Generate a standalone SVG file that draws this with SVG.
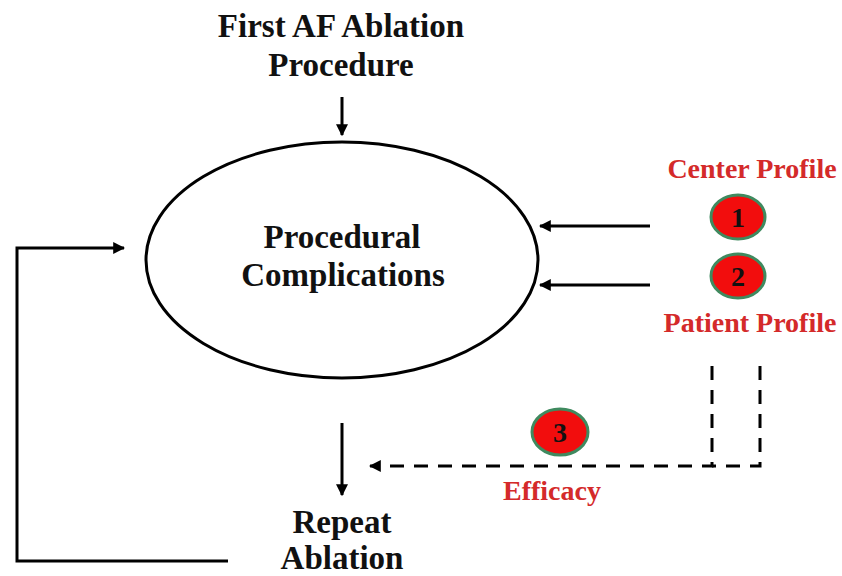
<svg xmlns="http://www.w3.org/2000/svg" width="842" height="576" viewBox="0 0 842 576">
<style>
.t{font-family:"Liberation Serif",serif;font-weight:bold;font-size:33px;fill:#111;text-anchor:middle}
.r{font-family:"Liberation Serif",serif;font-weight:bold;font-size:28px;fill:#d42a2a;text-anchor:middle}
.n{font-family:"Liberation Serif",serif;font-weight:bold;font-size:28px;fill:#111;text-anchor:middle}
.ln{stroke:#000;stroke-width:3;fill:none}
.ds{stroke:#000;stroke-width:3;fill:none;stroke-dasharray:14 10}
.badge{fill:#f20d0d;stroke:#3f8a5f;stroke-width:3}
</style>
<defs>
<marker id="ah" viewBox="0 0 10 10" refX="9" refY="5" markerWidth="4" markerHeight="4" orient="auto" markerUnits="strokeWidth">
<path d="M0,0 L10,5 L0,10 z" fill="#000"/>
</marker>
</defs>
<rect width="842" height="576" fill="#fff"/>
<g id="start"><text class="t" x="341" y="37">First AF Ablation</text><text class="t" x="341" y="76">Procedure</text></g>
<g id="complications"><ellipse cx="342" cy="260" rx="196" ry="118" fill="#fff" stroke="#000" stroke-width="3"/>
<text class="t" x="342" y="248">Procedural</text><text class="t" x="343" y="286">Complications</text></g>
<g id="repeat"><text class="t" x="342" y="533">Repeat</text><text class="t" x="342" y="569">Ablation</text></g>
<g id="center"><text class="r" x="752" y="178">Center Profile</text><ellipse class="badge" cx="738" cy="217" rx="27" ry="22"/><text class="n" x="738" y="227">1</text></g>
<g id="patient"><ellipse class="badge" cx="738" cy="276" rx="27" ry="22"/><text class="n" x="738" y="286">2</text><text class="r" x="750" y="332">Patient Profile</text></g>
<g id="efficacy"><ellipse class="badge" cx="560" cy="432" rx="28" ry="23"/><text class="n" x="560" y="442">3</text><text class="r" x="552" y="500">Efficacy</text></g>
<g id="connectors">
<line class="ln" x1="342" y1="97" x2="342" y2="135" marker-end="url(#ah)"/>
<line class="ln" x1="650" y1="226" x2="540" y2="226" marker-end="url(#ah)"/>
<line class="ln" x1="650" y1="285" x2="540" y2="285" marker-end="url(#ah)"/>
<line class="ln" x1="342" y1="423" x2="342" y2="495" marker-end="url(#ah)"/>
<polyline class="ln" points="228,561 17,561 17,248 124,248" marker-end="url(#ah)"/>
<polyline class="ds" points="712,366 712,466 370,466" marker-end="url(#ah)"/>
<polyline class="ds" points="760,366 760,466 712,466"/>
</g>
</svg>
